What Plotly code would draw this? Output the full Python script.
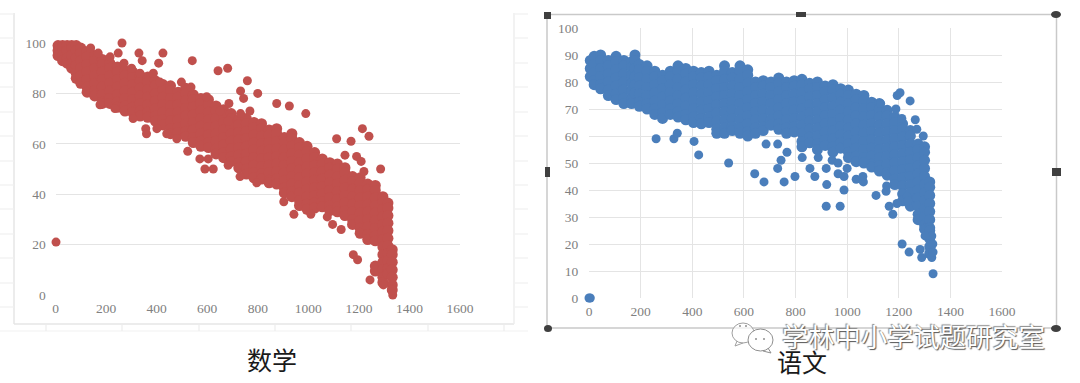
import plotly.graph_objects as go

W, H = 1080, 383

# ---------- 数学 (maths): rank on x, score on y, read column by column ----------
math_col_x = [10, 28, 46, 64, 82, 100, 125, 155, 185, 215, 245, 275, 305, 335, 365, 395, 425, 455, 485, 515,
              545, 575, 605, 635, 665, 695, 725, 755, 785, 815, 845, 875, 905, 935, 965, 995, 1025, 1055, 1085,
              1115, 1145, 1175, 1205, 1235, 1265, 1295, 1315, 1332]
math_col_y = [
    [99, 97, 95], [99, 98, 95, 93], [99, 97, 94, 92], [99, 98, 95, 92, 90], [99, 97, 94, 91, 88, 86],
    [98, 96, 93, 90, 87, 84], [96.5, 94.5, 91.5, 88.5, 85.5, 82.5, 80.5], [95, 93, 90, 87, 84, 81, 79],
    [93.5, 91.5, 88.5, 85.5, 82.5, 79.5, 76.5, 76], [92, 90, 87, 84, 81, 78, 76],
    [90.5, 88.5, 85.5, 82.5, 79.5, 76.5, 74.5], [89, 87, 84, 81, 78, 75, 73],
    [88.5, 86.5, 83.5, 80.5, 77.5, 74.5, 72.5], [87, 85, 82, 79, 76, 73, 71],
    [86.5, 84.5, 81.5, 78.5, 75.5, 72.5, 70.5], [85, 83, 80, 77, 74, 71, 69],
    [83.5, 81.5, 78.5, 75.5, 72.5, 69.5, 67.5], [83, 81, 78, 75, 72, 69, 66, 64],
    [80.5, 78.5, 75.5, 72.5, 69.5, 66.5, 64.5], [82, 80, 77, 74, 71, 68, 65, 63],
    [79.5, 77.5, 74.5, 71.5, 68.5, 65.5, 62.5, 60.5], [78, 76, 73, 70, 67, 64, 61, 59],
    [77.5, 75.5, 72.5, 69.5, 66.5, 63.5, 60.5, 58.5], [75, 73, 70, 67, 64, 61, 58, 56],
    [73.5, 71.5, 68.5, 65.5, 62.5, 59.5, 56.5, 54.5], [72, 70, 67, 64, 61, 58, 55, 53],
    [69.5, 67.5, 64.5, 61.5, 58.5, 55.5, 52.5, 50.5], [70, 68, 65, 62, 59, 56, 53, 50, 48],
    [68.5, 66.5, 63.5, 60.5, 57.5, 54.5, 51.5, 48.5, 46.5], [68, 66, 63, 60, 57, 54, 51, 48, 46],
    [65.5, 63.5, 60.5, 57.5, 54.5, 51.5, 48.5, 45.5, 44.5], [66, 64, 61, 58, 55, 52, 49, 46, 44],
    [62.5, 60.5, 57.5, 54.5, 51.5, 48.5, 45.5, 42.5, 40.5], [64, 62, 59, 56, 53, 50, 47, 44, 41, 39],
    [60.5, 58.5, 55.5, 52.5, 49.5, 46.5, 43.5, 40.5, 37.5, 35.5], [59, 57, 54, 51, 48, 45, 42, 39, 36, 34],
    [56.5, 54.5, 51.5, 48.5, 45.5, 42.5, 39.5, 36.5, 34.5], [54, 52, 49, 46, 43, 40, 37, 35],
    [52.5, 50.5, 47.5, 44.5, 41.5, 38.5, 35.5, 33.5], [52, 50, 47, 44, 41, 38, 35, 33],
    [50.5, 48.5, 45.5, 42.5, 39.5, 36.5, 33.5, 31.5], [47, 45, 42, 39, 36, 33, 30, 28],
    [46.5, 44.5, 41.5, 38.5, 35.5, 32.5, 29.5, 26.5, 24.5], [44, 42, 39, 36, 33, 30, 27, 24, 22],
    [43.5, 41.5, 38.5, 35.5, 32.5, 29.5, 26.5, 23.5, 21.5, 11.5, 9.5],
    [39, 37, 34, 31, 28, 25, 22, 19, 16, 13, 10, 7, 5],
    [36.5, 34.5, 31.5, 28.5, 25.5, 22.5, 19.5, 16.5, 13.5, 10.5, 8.5], [18, 16, 13, 10, 7, 4, 2],
]
math_extra_x = [263, 330, 425, 343, 408, 541, 643, 681, 759, 732, 800, 744, 686, 732, 769, 357, 360, 571, 604, 591,
                624, 523, 1214, 1240, 990, 925, 875, 1112, 1169, 1145, 1191, 1209, 1286, 1220, 1722, 903, 943, 1010,
                1075, 1096, 1130, 1178, 1195, 1244, 1334, 1330, 1297, 2,
                139, 169, 216, 248, 271, 301, 334, 387, 413, 498, 536, 598, 651, 683,
                176, 235, 307, 401, 440, 480, 683, 730, 796]
math_extra_y = [100, 96, 96, 93, 92, 93, 89, 90, 85, 81, 80, 78, 76, 72, 73, 66, 64, 54, 54, 50,
                50, 57, 66, 63, 72, 75, 76, 62, 61, 55.5, 55, 53, 50, 49, 55.5, 37, 32, 32,
                31, 28, 26, 16, 14, 6, 0, 2, 4, 21,
                98, 96, 94.5, 96, 92, 90, 88, 88, 84.5, 84.5, 82.5, 78.7, 73, 69,
                75.5, 74, 70, 66, 64, 62, 51.5, 47, 44.5]

# ---------- 语文 (Chinese) ----------
chin_col_x = [5, 20, 45, 75, 105, 135, 165, 178, 195, 225, 255, 285, 315, 345, 375, 405, 435, 465, 495, 525, 555,
              585, 615, 645, 675, 705, 735, 765, 795, 825, 855, 885, 915, 945, 975, 1005, 1035, 1065, 1095, 1125,
              1155, 1185, 1215, 1245, 1275, 1300, 1320]
chin_col_y = [
    [88, 85, 82], [89.5, 86.5, 83.5, 80.5, 79], [90, 88, 85, 82, 79, 77.5], [88, 86, 83, 80, 77, 75],
    [89.5, 87.5, 84.5, 81.5, 78.5, 75.5, 73.5], [88, 86, 83, 80, 77, 74, 72],
    [87.5, 85.5, 82.5, 79.5, 76.5, 73.5, 72], [90, 88, 85, 82, 79, 76],
    [86.5, 84.5, 81.5, 78.5, 75.5, 72.5, 71], [86, 84, 81, 78, 75, 72, 70],
    [84, 82, 79, 76, 73, 70, 68], [82.5, 80.5, 77.5, 74.5, 71.5, 68.5, 66.5],
    [84, 82, 79, 76, 73, 70, 68], [86, 84, 81, 78, 75, 72, 69, 67],
    [85, 83, 80, 77, 74, 71, 68, 66], [84, 82, 79, 76, 73, 70, 67, 65],
    [83.5, 81.5, 78.5, 75.5, 72.5, 69.5, 66.5, 64.5], [84, 82, 79, 76, 73, 70, 67, 65],
    [82.5, 80.5, 77.5, 74.5, 71.5, 68.5, 65.5, 62.5, 61], [86, 84, 81, 78, 75, 72, 69, 66, 63, 61],
    [83.5, 81.5, 78.5, 75.5, 72.5, 69.5, 66.5, 63.5, 62], [86, 84, 81, 78, 75, 72, 69, 66, 63, 61],
    [84.5, 82.5, 79.5, 76.5, 73.5, 70.5, 67.5, 64.5, 61.5, 60], [80, 78, 75, 72, 69, 66, 63, 61],
    [80.5, 78.5, 75.5, 72.5, 69.5, 66.5, 63.5, 62], [80, 78, 75, 72, 69, 66, 64],
    [81.5, 79.5, 76.5, 73.5, 70.5, 67.5, 64.5, 62.5], [80, 78, 75, 72, 69, 66, 63, 61],
    [80.5, 78.5, 75.5, 72.5, 69.5, 66.5, 63.5, 61.5], [81, 79, 76, 73, 70, 67, 64, 61, 58, 56],
    [79.5, 77.5, 74.5, 71.5, 68.5, 65.5, 62.5, 59.5, 57.5], [80, 78, 75, 72, 69, 66, 63, 60, 57, 55],
    [78.5, 76.5, 73.5, 70.5, 67.5, 64.5, 61.5, 58.5, 56.5], [79, 77, 74, 71, 68, 65, 62, 59, 56, 54],
    [77.5, 75.5, 72.5, 69.5, 66.5, 63.5, 60.5, 57.5, 55.5], [77, 75, 72, 69, 66, 63, 60, 57, 54, 52],
    [75.5, 73.5, 70.5, 67.5, 64.5, 61.5, 58.5, 55.5, 52.5, 50.5], [75, 73, 70, 67, 64, 61, 58, 55, 52, 50],
    [72.5, 70.5, 67.5, 64.5, 61.5, 58.5, 55.5, 52.5, 49.5, 48.5], [72, 70, 67, 64, 61, 58, 55, 52, 49, 47],
    [69.5, 67.5, 64.5, 61.5, 58.5, 55.5, 52.5, 49.5, 46.5, 45.5], [67, 65, 62, 59, 56, 53, 50, 47, 44, 42],
    [64.5, 62.5, 59.5, 56.5, 53.5, 50.5, 47.5, 44.5, 41.5, 38.5, 36], [62, 60, 57, 54, 51, 48, 45, 42, 39, 36, 34],
    [57, 55, 52, 49, 46, 43, 40, 37, 34, 31, 29], [56, 54, 51, 48, 45, 42, 39, 36, 33, 30, 27, 25.5],
    [43, 41, 38, 35, 32, 29, 26, 25, 22, 19, 16.5],
]
chin_extra_x = [260, 329, 342, 407, 425, 541, 642, 678, 756, 798, 731, 744, 767, 686, 731, 826, 856, 919, 973, 921,
                988, 875, 919, 1000, 965, 988, 1035, 1063, 1061, 888, 942, 965, 1112, 1151, 1153, 1163, 1177, 1193,
                1232, 1236, 1213, 1240, 1283, 1289, 1333, 1328, 1333, 1332, 1328, 1302, 1721, 1130, 1189, 1244, 1212,
                1264, 1270, 1295, 1194, 1205, 0, 5]
chin_extra_y = [59, 59, 61, 58, 53, 50, 46, 43, 43, 45, 48, 51, 54, 57, 57, 52, 48, 34, 34, 42,
                40, 45, 48, 48, 46, 45, 44, 43, 45, 52, 51, 50, 38, 39.5, 41.5, 34, 31, 35,
                37.5, 36, 20, 17, 18, 15, 9, 15, 17, 20, 23, 23, 45.7, 72, 70, 73, 66.5,
                66, 62.5, 60, 75, 76, 0, 0]

tick_x = [0, 200, 400, 600, 800, 1000, 1200, 1400, 1600]
tick_y_math = [0, 20, 40, 60, 80, 100]
tick_y_chin = [0, 10, 20, 30, 40, 50, 60, 70, 80, 90, 100]

def flatten(col_x, col_y):
    xs, ys = [], []
    for x, col in zip(col_x, col_y):
        for y in col:
            xs.append(x)
            ys.append(y)
    return xs, ys

mx, my = flatten(math_col_x, math_col_y)
cx, cy = flatten(chin_col_x, chin_col_y)

px = lambda v: v / W
py = lambda v: 1 - v / H

RED, BLUE = "#c0504d", "#4a7ebb"
fig = go.Figure()
for xs, ys, xa, ya, col, size in [
    (mx, my, "x", "y", RED, 11), (math_extra_x, math_extra_y, "x", "y", RED, 9),
    (cx, cy, "x2", "y2", BLUE, 11), (chin_extra_x, chin_extra_y, "x2", "y2", BLUE, 9),
]:
    fig.add_trace(go.Scatter(x=xs, y=ys, mode="markers", xaxis=xa, yaxis=ya, cliponaxis=False, showlegend=False,
                             marker=dict(color=col, size=size, line=dict(width=0))))

tickfont = dict(family="Liberation Serif", size=13.5, color="#808080")
def axis(domain, rng, ticks, anchor, grid, ticklen):
    return dict(domain=domain, range=rng, tickmode="array", tickvals=ticks, ticktext=[str(t) for t in ticks],
                anchor=anchor, showgrid=grid, gridcolor="#e4e4e4", gridwidth=1.2, zeroline=False, showline=False,
                ticks="outside", ticklen=ticklen, tickcolor="rgba(0,0,0,0)", tickfont=tickfont, fixedrange=True,
                automargin=False)

shapes = []
def line(x0, y0, x1, y1, color, width=1, layer="below"):
    shapes.append(dict(type="line", xref="paper", yref="paper", x0=px(x0), y0=py(y0), x1=px(x1), y1=py(y1),
                       line=dict(color=color, width=width), layer=layer))
def box(x0, y0, x1, y1, color="#3f3f3f", kind="rect"):
    shapes.append(dict(type=kind, xref="paper", yref="paper", x0=px(x0), y0=py(y0), x1=px(x1), y1=py(y1),
                       fillcolor=color, line=dict(width=0), layer="above"))

# faint frame of the pasted maths picture
line(14, 13, 14, 324, "#e6e6e6", 1.5)
line(14, 324, 514, 324, "#e6e6e6", 1.5)
line(514, 13, 514, 324, "#eeeeee", 1.5)
line(0, 331, 528, 331, "#f1f1f1", 1.2)
for yy in [14, 38, 63, 87, 112, 136, 161, 185, 209, 234, 258, 283, 307]:
    line(0, yy, 14, yy, "#f0f0f0", 1.2)
    line(515, yy, 528, yy, "#f0f0f0", 1.2)
for xx in [46, 122, 199, 275, 351, 428, 504]:
    line(xx, 325, xx, 331, "#ededed", 1.2)

# selection frame of the Chinese picture
line(547, 14.5, 1056.5, 14.5, "#c9c9c9", 1.5)
line(547, 14.5, 547, 328, "#c9c9c9", 1.5)
line(1056.5, 14.5, 1056.5, 328, "#c9c9c9", 1.5)
line(547, 328, 1056.5, 328, "#c9c9c9", 1.5)
box(544, 12, 551, 19)
box(796, 12, 806, 17)
box(1051, 11, 1061, 18, kind="circle")
box(545, 167, 550, 177)
box(1052, 168, 1061, 176)
box(544, 325, 552, 332, kind="circle")
box(1051, 325, 1061, 332, kind="circle")

# watermark bubbles with eyes and tails
shapes.append(dict(type="circle", xref="paper", yref="paper", x0=px(732), y0=py(323), x1=px(754), y1=py(343),
                   fillcolor="rgba(255,255,255,0.7)", line=dict(color="#a0a0a0", width=1), layer="above"))
line(737, 341, 735, 346, "#a0a0a0", 1, "above")
line(735, 346, 743, 343, "#a0a0a0", 1, "above")
shapes.append(dict(type="circle", xref="paper", yref="paper", x0=px(748), y0=py(329), x1=px(773), y1=py(351),
                   fillcolor="#ffffff", line=dict(color="#8f8f8f", width=1), layer="above"))
line(768, 348, 771, 353, "#8f8f8f", 1, "above")
line(771, 353, 763, 351, "#8f8f8f", 1, "above")
for ex, ey in [(740, 326), (746, 326), (756, 339), (764, 339)]:
    box(ex - 1, ey - 1, ex + 1, ey + 1, "#8f8f8f", "circle")

def note(text, x, y, size, color, **font):
    return dict(text=text, x=px(x), y=py(y), xref="paper", yref="paper", showarrow=False,
                xanchor="center", yanchor="middle",
                font=dict(family="Noto Sans CJK SC", size=size, color=color, **font))

annotations = [
    note("数学", 272, 359, 25, "#1a1a1a"),
    note("语文", 802, 361, 25, "#1a1a1a"),
    note("学林中小学试题研究室", 913, 335, 26.3, "#ffffff", shadow="1px 1px 1px #555555, -1px -1px 1px #888888"),
]

fig.update_layout(
    width=W, height=H, margin=dict(l=0, r=0, t=0, b=0, autoexpand=False), paper_bgcolor="white", plot_bgcolor="white",
    showlegend=False, shapes=shapes, annotations=annotations,
    xaxis=axis([px(55.5), px(460)], [0, 1600], tick_x, "y", False, 1),
    yaxis=axis([py(295), py(43)], [0, 100], tick_y_math, "x", True, 6),
    xaxis2=axis([px(589), px(1002)], [0, 1600], tick_x, "y2", True, 1),
    yaxis2=axis([py(298), py(28)], [0, 100], tick_y_chin, "x2", True, 7),
)
fig.write_html("out.html", post_script="document.body.style.margin='0';", config=dict(displayModeBar=False))
